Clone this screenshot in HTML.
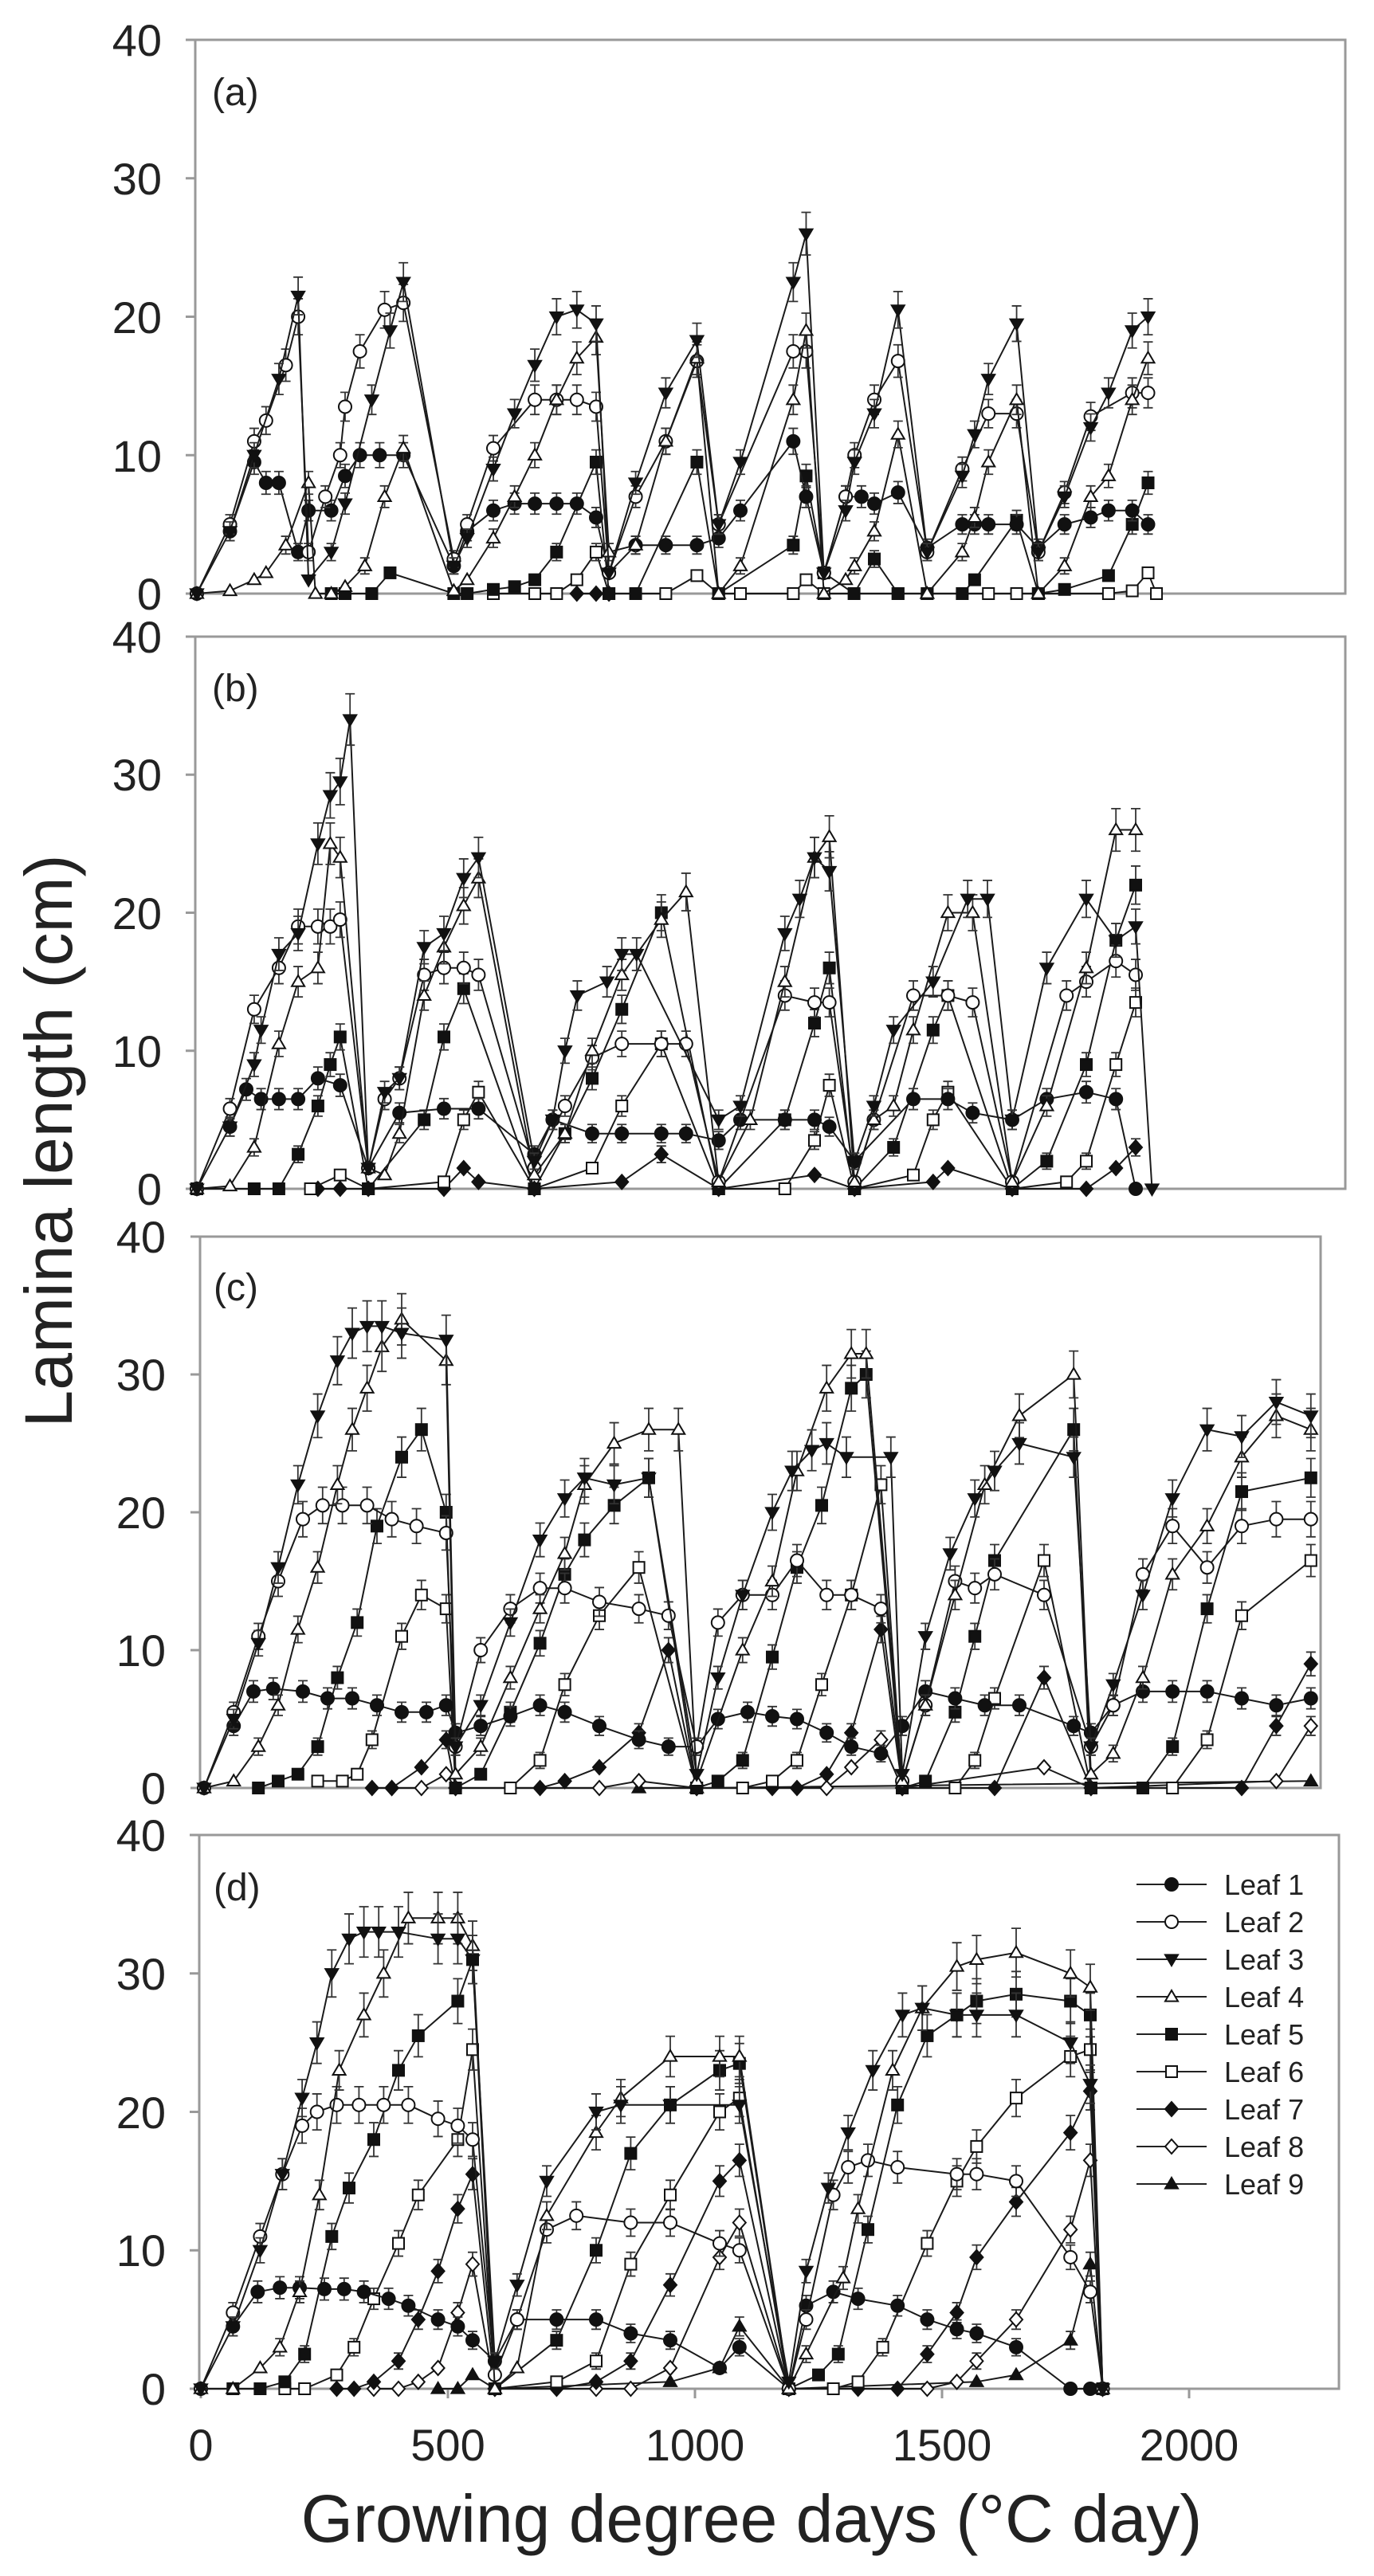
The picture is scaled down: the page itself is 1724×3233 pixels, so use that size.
<!DOCTYPE html>
<html><head><meta charset="utf-8"><style>
html,body{margin:0;padding:0;background:#fff}
svg text{font-family:"Liberation Sans",Arial,sans-serif;fill:#222}
</style></head><body>
<svg id="s" xmlns="http://www.w3.org/2000/svg" width="1724" height="3228" viewBox="0 0 1724 3228">
<rect width="1724" height="3228" fill="#fff"/>
<g id="frames" fill="none" stroke="#999" stroke-width="3">
<rect x="245" y="50" width="1443" height="695"/>
<rect x="245" y="799" width="1443" height="693"/>
<rect x="251" y="1552" width="1406" height="692"/>
<rect x="250" y="2303" width="1430" height="695"/>
</g>
<g id="ticks" stroke="#999" stroke-width="3"></g>
<g font-size="56" text-anchor="end">
<text x="203" y="70">40</text><text x="203" y="244">30</text><text x="203" y="418">20</text><text x="203" y="592">10</text><text x="203" y="765">0</text>
<text x="203" y="819">40</text><text x="203" y="992">30</text><text x="203" y="1166">20</text><text x="203" y="1339">10</text><text x="203" y="1512">0</text>
<text x="208" y="1572">40</text><text x="208" y="1745">30</text><text x="208" y="1918">20</text><text x="208" y="2091">10</text><text x="208" y="2264">0</text>
<text x="208" y="2323">40</text><text x="208" y="2497">30</text><text x="208" y="2671">20</text><text x="208" y="2844">10</text><text x="208" y="3018">0</text>
</g>
<g font-size="56" text-anchor="middle">
<text x="252" y="3088">0</text><text x="562" y="3088">500</text><text x="872" y="3088">1000</text><text x="1182" y="3088">1500</text><text x="1492" y="3088">2000</text>
</g>
<g font-size="48">
<text x="266" y="132">(a)</text><text x="266" y="880">(b)</text><text x="268" y="1632">(c)</text><text x="268" y="2385">(d)</text>
</g>
<text x="943" y="3190" font-size="84" text-anchor="middle">Growing degree days (°C day)</text>
<text transform="translate(90,1432) rotate(-90)" font-size="84" text-anchor="middle">Lamina length (cm)</text>
<g font-size="36">
<text x="1536" y="2378">Leaf 1</text><text x="1536" y="2425">Leaf 2</text><text x="1536" y="2472">Leaf 3</text>
<text x="1536" y="2519">Leaf 4</text><text x="1536" y="2566">Leaf 5</text><text x="1536" y="2613">Leaf 6</text>
<text x="1536" y="2660">Leaf 7</text><text x="1536" y="2707">Leaf 8</text><text x="1536" y="2754">Leaf 9</text>
</g>
<g id="data"></g>
</svg>
<script>
var NS="http://www.w3.org/2000/svg";
var data=document.getElementById("data"),ticks=document.getElementById("ticks");
function el(t,a,p){var e=document.createElementNS(NS,t);for(var k in a)e.setAttribute(k,a[k]);(p||data).appendChild(e);return e;}
function marker(type,x,y){
 var r=8,f=(type==1||type==3||type==5||type==7||type==9)?"#111":"#fff",st={fill:f,stroke:"#111","stroke-width":2};
 if(type==1||type==2){st.cx=x;st.cy=y;st.r=r;el("circle",st);}
 else if(type==3){st.points=(x-r)+","+(y-r*0.7)+" "+(x+r)+","+(y-r*0.7)+" "+x+","+(y+r);el("polygon",st);}
 else if(type==4||type==9){st.points=(x-r)+","+(y+r*0.7)+" "+(x+r)+","+(y+r*0.7)+" "+x+","+(y-r);el("polygon",st);}
 else if(type==5||type==6){st.x=x-r+1;st.y=y-r+1;st.width=2*r-2;st.height=2*r-2;el("rect",st);}
 else {st.points=x+","+(y-r-1)+" "+(x+r)+","+y+" "+x+","+(y+r+1)+" "+(x-r)+","+y;el("polygon",st);}
}
var P={
a:{x0:247,bot:745,top:50,s:{
3:[[0,0],[67,4.5],[116,10],[166,15.5],[205,21.5],[226,1],[272,3],[300,6.5],[354,14],[391,19],[418,22.5],[520,2],[547,4],[600,9],[643,13],[684,16.5],[728,20],[769,20.5],[808,19.5],[834,1.5],[888,8],[949,14.5],[1012,18.3],[1056,5],[1100,9.5],[1207,22.5],[1233,26],[1269,1.5],[1313,6],[1331,9.5],[1371,13],[1419,20.5],[1478,3],[1549,8.5],[1574,11.5],[1602,15.5],[1659,19.5],[1703,3],[1756,7],[1809,12],[1845,14.5],[1893,19],[1925,20]],
2:[[0,0],[67,5],[116,11],[140,12.5],[180,16.5],[205,20],[226,3],[260,7],[290,10],[300,13.5],[330,17.5],[380,20.5],[418,21],[520,2.5],[547,5],[600,10.5],[684,14],[728,14],[769,14],[808,13.5],[834,1.5],[888,7],[949,11],[1012,16.8],[1056,5],[1207,17.5],[1233,17.5],[1269,1.5],[1313,7],[1331,10],[1371,14],[1419,16.8],[1478,3],[1549,9],[1602,13],[1659,13],[1703,3],[1756,7.3],[1809,12.8],[1893,14.5],[1925,14.5]],
4:[[0,0],[67,0.2],[116,1],[140,1.5],[180,3.5],[226,8],[240,0],[272,0],[300,0.5],[340,2],[380,7],[418,10.5],[520,0.2],[547,1],[600,4],[643,7],[684,10],[728,14],[769,17],[808,18.5],[834,3],[888,3.5],[949,11],[1012,17],[1056,0],[1100,2],[1207,14],[1233,19],[1269,0],[1313,1],[1331,2],[1371,4.5],[1419,11.5],[1478,0],[1549,3],[1574,5.5],[1602,9.5],[1659,14],[1703,0],[1756,2],[1809,7],[1845,8.5],[1893,14],[1925,17]],
1:[[67,4.5],[116,9.5],[140,8],[166,8],[205,3],[226,6],[272,6],[300,8.5],[330,10],[370,10],[418,10],[520,2],[547,4.5],[600,6],[643,6.5],[684,6.5],[728,6.5],[769,6.5],[808,5.5],[834,1.5],[888,3.5],[949,3.5],[1012,3.5],[1056,4],[1100,6],[1207,11],[1233,7],[1269,1.5],[1313,7],[1345,7],[1371,6.5],[1419,7.3],[1478,3.3],[1549,5],[1574,5],[1602,5],[1659,5],[1703,3.3],[1756,5],[1809,5.5],[1845,6],[1893,6],[1925,5]],
5:[[272,0],[300,0],[354,0],[391,1.5],[520,0],[547,0],[600,0.3],[643,0.5],[684,1],[728,3],[808,9.5],[834,0],[888,0],[1012,9.5],[1056,0],[1207,3.5],[1233,8.5],[1269,1.5],[1330,0],[1371,2.5],[1419,0],[1478,0],[1549,0],[1574,1],[1659,5.3],[1703,0],[1756,0.3],[1845,1.3],[1893,5],[1925,8]],
6:[[600,0],[684,0],[728,0],[769,1],[808,3],[834,0],[949,0],[1012,1.3],[1056,0],[1100,0],[1207,0],[1233,1],[1269,0],[1419,0],[1478,0],[1602,0],[1659,0],[1703,0],[1845,0],[1893,0.2],[1925,1.5],[1942,0]],
7:[[769,0],[808,0],[834,0]]}},
b:{x0:247,bot:1492,top:799,s:{
3:[[0,0],[67,4.5],[116,9],[130,11.5],[166,17],[205,18.5],[245,25],[270,28.5],[290,29.5],[310,34],[347,1.5],[380,7],[410,8],[460,17.5],[500,18.5],[540,22.5],[570,24],[683,2],[720,5],[745,10],[770,14],[830,15],[860,17],[890,17],[1056,5],[1100,6],[1190,18.5],[1220,21],[1250,24],[1280,23],[1331,2],[1370,6],[1410,11.5],[1490,15],[1560,21],[1600,21],[1650,5],[1720,16],[1800,21],[1860,18],[1900,19],[1933,0]],
4:[[0,0],[67,0.2],[116,3],[166,10.5],[205,15],[245,16],[270,25],[290,24],[347,1.5],[380,1],[410,4],[460,14],[500,17.5],[540,20.5],[570,22.5],[683,1],[745,4],[800,10],[860,15.5],[940,19.5],[990,21.5],[1056,0.5],[1120,5],[1190,15],[1250,24],[1280,25.5],[1331,0.5],[1370,5],[1410,6],[1450,11.5],[1520,20],[1570,20],[1650,0.5],[1720,6],[1800,16],[1860,26],[1900,26]],
2:[[0,0],[67,5.8],[116,13],[166,16],[205,19],[245,19],[270,19],[290,19.5],[347,1.5],[380,6.5],[410,8],[460,15.5],[500,16],[540,16],[570,15.5],[683,1.5],[745,6],[800,9.5],[860,10.5],[940,10.5],[990,10.5],[1056,0.5],[1190,14],[1250,13.5],[1280,13.5],[1331,0.5],[1370,5],[1450,14],[1520,14],[1570,13.5],[1650,0.5],[1760,14],[1800,15],[1860,16.5],[1900,15.5]],
1:[[67,4.5],[100,7.2],[130,6.5],[166,6.5],[205,6.5],[245,8],[290,7.5],[347,1.5],[410,5.5],[500,5.8],[570,5.8],[683,2.5],[720,5],[800,4],[860,4],[940,4],[990,4],[1056,3.5],[1100,5],[1190,5],[1250,5],[1280,4.5],[1331,2],[1450,6.5],[1520,6.5],[1570,5.5],[1650,5],[1720,6.5],[1800,7],[1860,6.5],[1900,0]],
5:[[0,0],[116,0],[166,0],[205,2.5],[245,6],[270,9],[290,11],[347,0],[460,5],[500,11],[540,14.5],[683,0],[745,4],[800,8],[860,13],[940,20],[1056,0],[1190,5],[1250,12],[1280,16],[1331,0],[1410,3],[1490,11.5],[1520,14],[1650,0],[1720,2],[1800,9],[1860,18],[1900,22]],
6:[[230,0],[290,1],[347,0],[500,0.5],[540,5],[570,7],[683,0],[800,1.5],[860,6],[940,10.5],[1056,0],[1190,0],[1250,3.5],[1280,7.5],[1331,0],[1450,1],[1490,5],[1520,7],[1650,0],[1760,0.5],[1800,2],[1860,9],[1900,13.5]],
7:[[245,0],[290,0],[347,0],[500,0],[540,1.5],[570,0.5],[683,0],[860,0.5],[940,2.5],[1056,0],[1250,1],[1331,0],[1490,0.5],[1520,1.5],[1650,0],[1800,0],[1860,1.5],[1900,3]]}},
c:{x0:256,bot:2244,top:1552,s:{
3:[[0,0],[60,5],[110,10.5],[150,16],[190,22],[230,27],[270,31],[300,33],[330,33.5],[360,33.5],[400,33],[490,32.5],[509,3],[560,6],[620,12],[680,18],[730,21],[770,22.5],[830,22],[900,22.5],[997,1],[1040,8],[1090,14],[1150,20],[1190,23],[1230,24.5],[1260,25],[1300,24],[1390,24],[1413,1],[1460,11],[1510,17],[1560,21],[1600,23],[1650,25],[1760,24],[1795,3],[1840,7.5],[1900,14],[1960,21],[2030,26],[2100,25.5],[2170,28],[2240,27]],
4:[[0,0],[60,0.5],[110,3],[150,6],[190,11.5],[230,16],[270,22],[300,26],[330,29],[360,32],[400,34],[490,31],[509,1],[560,3],[620,8],[680,13],[730,17],[770,22],[830,25],[900,26],[960,26],[997,0.5],[1090,10],[1150,15],[1200,23],[1260,29],[1310,31.5],[1340,31.5],[1413,0.5],[1460,6],[1520,14],[1580,22],[1650,27],[1760,30],[1795,1],[1840,2.5],[1900,8],[1960,15.5],[2030,19],[2100,24],[2170,27],[2240,26]],
2:[[0,0],[60,5.5],[110,11],[150,15],[200,19.5],[240,20.5],[280,20.5],[330,20.5],[380,19.5],[430,19],[490,18.5],[509,3],[560,10],[620,13],[680,14.5],[730,14.5],[800,13.5],[880,13],[940,12.5],[997,3],[1040,12],[1090,14],[1150,14],[1200,16.5],[1260,14],[1310,14],[1370,13],[1413,0.5],[1460,6],[1520,15],[1560,14.5],[1600,15.5],[1700,14],[1795,3],[1840,6],[1900,15.5],[1960,19],[2030,16],[2100,19],[2170,19.5],[2240,19.5]],
1:[[60,4.5],[100,7],[140,7.2],[200,7],[250,6.5],[300,6.5],[350,6],[400,5.5],[450,5.5],[490,6],[509,4],[560,4.5],[620,5.2],[680,6],[730,5.5],[800,4.5],[880,3.5],[940,3],[997,3],[1040,5],[1100,5.5],[1150,5.2],[1200,5],[1260,4],[1310,3],[1370,2.5],[1413,4.5],[1460,7],[1520,6.5],[1580,6],[1650,6],[1760,4.5],[1795,4],[1840,6],[1900,7],[1960,7],[2030,7],[2100,6.5],[2170,6],[2240,6.5]],
5:[[110,0],[150,0.5],[190,1],[230,3],[270,8],[310,12],[350,19],[400,24],[440,26],[490,20],[509,0],[560,1],[620,5.5],[680,10.5],[730,15.5],[770,18],[830,20.5],[900,22.5],[997,0],[1040,0.5],[1090,2],[1150,9.5],[1200,16],[1250,20.5],[1310,29],[1340,30],[1413,0],[1460,0.5],[1520,5.5],[1560,11],[1600,16.5],[1760,26],[1795,0],[1900,0],[1960,3],[2030,13],[2100,21.5],[2240,22.5]],
6:[[230,0.5],[280,0.5],[310,1],[340,3.5],[400,11],[440,14],[490,13],[509,0],[620,0],[680,2],[730,7.5],[800,12.5],[880,16],[997,0],[1090,0],[1150,0.5],[1200,2],[1250,7.5],[1310,14],[1370,22],[1413,0],[1520,0],[1560,2],[1600,6.5],[1700,16.5],[1795,0],[1960,0],[2030,3.5],[2100,12.5],[2240,16.5]],
7:[[340,0],[380,0],[440,1.5],[490,3.5],[509,0],[680,0],[730,0.5],[800,1.5],[880,4],[940,10],[997,0],[1150,0],[1200,0],[1260,1],[1310,4],[1370,11.5],[1413,0],[1600,0],[1700,8],[1795,0],[2100,0],[2170,4.5],[2240,9]],
8:[[380,0],[440,0],[490,1],[509,0],[800,0],[880,0.5],[997,0],[1260,0],[1310,1.5],[1370,3.5],[1413,0],[1700,1.5],[1795,0],[2170,0.5],[2240,4.5]],
9:[[880,0],[997,0],[2240,0.5]]}},
d:{x0:252,bot:2998,top:2303,s:{
3:[[0,0],[65,4.5],[120,10],[165,15.5],[205,21],[235,25],[265,30],[300,32.5],[330,33],[360,33],[400,33],[480,32.5],[520,32.5],[550,31],[595,2],[640,7.5],[700,15],[800,20],[850,20.5],[950,20.5],[1090,20.5],[1190,0.5],[1225,8.5],[1270,14.5],[1310,18.5],[1360,23],[1420,27],[1460,27.5],[1530,27],[1570,27],[1650,27],[1760,25],[1800,22],[1825,0]],
4:[[0,0],[65,0],[120,1.5],[160,3],[200,7],[240,14],[280,23],[330,27],[370,30],[420,34],[480,34],[520,34],[550,32],[595,0],[640,1.5],[700,12.5],[800,18.5],[850,21],[950,24],[1050,24],[1090,24],[1190,0],[1225,2.5],[1300,8],[1330,13],[1400,23],[1460,27.5],[1530,30.5],[1570,31],[1650,31.5],[1760,30],[1800,29],[1825,0]],
2:[[0,0],[65,5.5],[120,11],[165,15.5],[205,19],[235,20],[275,20.5],[320,20.5],[370,20.5],[420,20.5],[480,19.5],[520,19],[550,18],[595,1],[640,5],[700,11.5],[760,12.5],[870,12],[950,12],[1050,10.5],[1090,10],[1190,0],[1225,5],[1280,14],[1310,16],[1350,16.5],[1410,16],[1530,15.5],[1570,15.5],[1650,15],[1760,9.5],[1800,7],[1825,0]],
1:[[65,4.5],[115,7],[160,7.3],[200,7.3],[250,7.2],[290,7.2],[330,7],[380,6.5],[420,6],[480,5],[520,4.5],[550,3.5],[595,2],[640,5],[720,5],[800,5],[870,4],[950,3.5],[1050,1.5],[1090,3],[1190,0],[1225,6],[1280,7],[1330,6.5],[1410,6],[1470,5],[1530,4.3],[1570,4],[1650,3],[1760,0],[1800,0],[1825,0]],
5:[[65,0],[120,0],[170,0.5],[210,2.5],[265,11],[300,14.5],[350,18],[400,23],[440,25.5],[520,28],[550,31],[595,0],[720,3.5],[800,10],[870,17],[950,20.5],[1050,23],[1090,23.5],[1190,0],[1250,1],[1290,2.5],[1350,11.5],[1410,20.5],[1470,25.5],[1530,27],[1570,28],[1650,28.5],[1760,28],[1800,27],[1825,0]],
6:[[170,0],[210,0],[275,1],[310,3],[350,6.5],[400,10.5],[440,14],[520,18],[550,24.5],[595,0],[720,0.5],[800,2],[870,9],[950,14],[1050,20],[1090,21],[1190,0],[1280,0],[1330,0.5],[1380,3],[1470,10.5],[1530,15],[1570,17.5],[1650,21],[1760,24],[1800,24.5],[1825,0]],
7:[[275,0],[310,0],[350,0.5],[400,2],[440,5],[480,8.5],[520,13],[550,15.5],[595,0],[720,0],[800,0.5],[870,2],[950,7.5],[1050,15],[1090,16.5],[1190,0],[1330,0],[1410,0],[1470,2.5],[1530,5.5],[1570,9.5],[1650,13.5],[1760,18.5],[1800,21.5],[1825,0]],
8:[[350,0],[400,0],[440,0.5],[480,1.5],[520,5.5],[550,9],[595,0],[800,0],[870,0],[950,1.5],[1050,9.5],[1090,12],[1190,0],[1470,0],[1530,0.5],[1570,2],[1650,5],[1760,11.5],[1800,16.5],[1825,0]],
9:[[480,0],[520,0],[550,1],[595,0],[950,0.5],[1050,1.5],[1090,4.5],[1190,0],[1570,0.5],[1650,1],[1760,3.5],[1800,9],[1825,0]]}}};
var lefts={a:245,b:245,c:251,d:250};
for(var k in P){var p=P[k],sc=(p.bot-p.top)/40;
 for(var v=0;v<=40;v+=10){var yy=p.bot-v*sc;el("line",{x1:lefts[k]-12,y1:yy,x2:lefts[k],y2:yy},ticks);}
 var order=[9,8,7,6,5,1,2,4,3];
 for(var oi=0;oi<order.length;oi++){var t=order[oi],arr=p.s[t];if(!arr)continue;
  var pts=arr.map(function(q){return [p.x0+q[0]*0.62,p.bot-q[1]*sc];});
  el("polyline",{points:pts.map(function(q){return q[0].toFixed(1)+","+q[1].toFixed(1)}).join(" "),fill:"none",stroke:"#1a1a1a","stroke-width":2});
  for(var i=0;i<arr.length;i++){var e=arr[i][1];if(e>1.5){var d=(0.5+e*0.04)*sc,x=pts[i][0],y=pts[i][1];
   el("path",{d:"M"+x+","+(y-d)+"V"+(y+d)+"M"+(x-6)+","+(y-d)+"h12M"+(x-6)+","+(y+d)+"h12",stroke:"#333","stroke-width":1.8,fill:"none"});}}
  for(var i=0;i<pts.length;i++)marker(t,pts[i][0],pts[i][1]);
 }}
[0,500,1000,1500,2000].forEach(function(g){var x=252+g*0.62;el("line",{x1:x,y1:2998,x2:x,y2:3010},ticks);});
for(var i=1;i<=9;i++){var y=2365+(i-1)*47;el("line",{x1:1426,y1:y,x2:1514,y2:y,stroke:"#222","stroke-width":2});marker(i,1470,y);}
</script>
</body></html>
